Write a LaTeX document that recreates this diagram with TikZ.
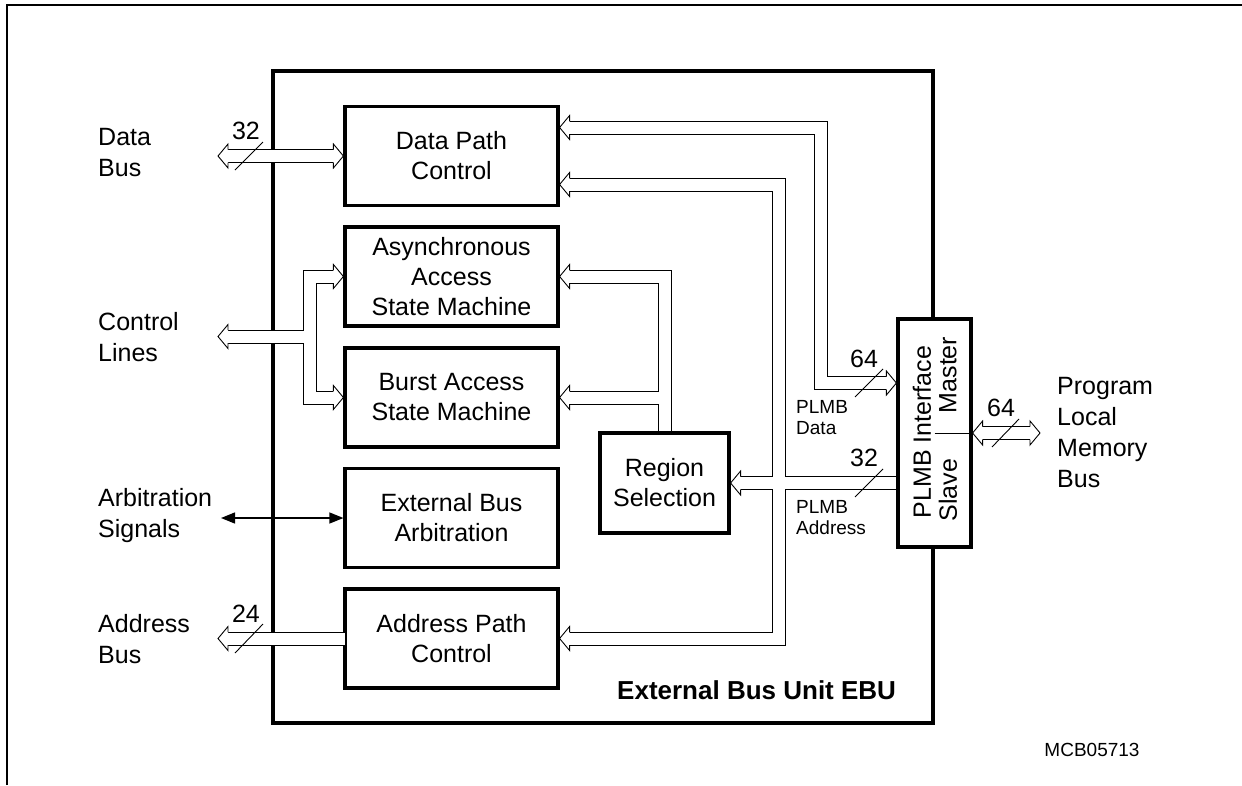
\documentclass[tikz,border=0pt]{standalone}
\usepackage{fontspec}
\setmainfont{Liberation Sans}
\usetikzlibrary{arrows.meta,calc}
\tikzset{
 blk/.style={draw, line width=3.2pt, minimum width=213pt, minimum height=99pt, align=center, inner sep=0pt, font=\fontsize{25}{30}\selectfont},
 lbl/.style={align=left, anchor=west, inner sep=0pt, font=\fontsize{25}{31}\selectfont},
 small/.style={align=left, anchor=west, inner sep=0pt, font=\fontsize{19}{21}\selectfont},
 num/.style={inner sep=0pt, font=\fontsize{25}{30}\selectfont},
 busline/.style={line width=0.9pt, line join=miter},
 slash/.style={line width=0.9pt},
}
\newcommand\bhead[2]{\begin{scope}[shift={(#1)},xscale=#2]\filldraw[fill=white,busline] (-10,6.5) -- (-10,12) -- (0,0) -- (-10,-12) -- (-10,-6.5);\end{scope}}
\begin{document}
\begin{tikzpicture}[x=1pt,y=-1pt]
\useasboundingbox (0,0) rectangle (1242,785);
% page frame
\draw[line width=1.2pt] (7,785) -- (7,5) -- (1242,5);
% EBU frame
\node[draw, line width=3.2pt, minimum width=660pt, minimum height=652pt, inner sep=0pt] (ebu) at (603,397) {};
% blocks
\node[blk] (dpc) at (451.5,156) {Data Path\\Control};
\node[blk] (asm) at (451.5,276.5) {Asynchronous\\Access\\State Machine};
\node[blk] (bsm) at (451.5,397.5) {Burst Access\\State Machine};
\node[blk] (eba) at (451.5,518) {External Bus\\Arbitration};
\node[blk] (apc) at (451.5,638.5) {Address Path\\Control};
\node[blk, minimum width=129pt, minimum height=100pt] (rs) at (664.5,483) {Region\\Selection};
\node[draw, line width=3.2pt, fill=white, minimum width=73pt, minimum height=228pt, inner sep=0pt] (plmb) at (934.5,433) {};
\node[num, rotate=90] (plmbi) at (922,432) {PLMB Interface};
\node[num, rotate=90] (mst) at (948,375) {Master};
\node[num, rotate=90] (slv) at (948,490) {Slave};
\draw[line width=0.9pt] (plmb.center) -- (plmb.east);
% tip coordinates
\coordinate (db) at (218,156);
\coordinate (cl) at (218,336.5);
\coordinate (ab) at (218,638.5);
\coordinate (pm) at (1040,433);
\coordinate (as) at (221,518);
\coordinate (dpcA) at ([yshift=28.5pt]dpc.east);
\coordinate (dpcB) at ([yshift=-28.5pt]dpc.east);
\coordinate (pd) at ([yshift=50pt]plmb.west);
% white interiors where buses cross the EBU frame
\fill[white] (228,149.5) rectangle (335,162.5);
\fill[white] (228,330) rectangle (303,343);
\fill[white] (228,632) rectangle (345,645);
% Data bus
\draw[busline] (228,149.5) -- (335,149.5);
\draw[busline] (228,162.5) -- (335,162.5);
% Control lines
\draw[busline] (335,270) -- (303,270) -- (303,330) -- (228,330);
\draw[busline] (228,343) -- (303,343) -- (303,404) -- (335,404);
\draw[busline] (335,283) -- (316,283) -- (316,391) -- (335,391);
% Address bus
\draw[busline] (228,632) -- (345,632);
\draw[busline] (228,645) -- (345,645);
% PLMB data
\draw[busline] (568,121) -- (827,121) -- (827,376.5) -- (888,376.5);
\draw[busline] (568,134) -- (814,134) -- (814,389.5) -- (888,389.5);
% PLMB address
\draw[busline] (568,178.5) -- (785,178.5) -- (785,476.5) -- (898,476.5);
\draw[busline] (568,191.5) -- (772,191.5) -- (772,476.5) -- (738,476.5);
\draw[busline] (738,489.5) -- (772,489.5) -- (772,632) -- (568,632);
\draw[busline] (898,489.5) -- (785,489.5) -- (785,645) -- (568,645);
% Region selection outputs
\draw[busline] (568,270) -- (671,270) -- (671,433);
\draw[busline] (568,283) -- (658,283) -- (658,391) -- (568,391);
\draw[busline] (568,404) -- (658,404) -- (658,433);
% Program local memory bus
\draw[busline] (981,426.5) -- (1030,426.5);
\draw[busline] (981,439.5) -- (1030,439.5);
% heads
\bhead{db}{-1} \bhead{dpc.west}{1}
\bhead{cl}{-1} \bhead{asm.west}{1} \bhead{bsm.west}{1}
\bhead{ab}{-1}
\bhead{dpcA}{-1} \bhead{dpcB}{-1} \bhead{pd}{1}
\bhead{apc.east}{-1} \bhead{rs.east}{-1}
\bhead{asm.east}{-1} \bhead{bsm.east}{-1}
\bhead{plmb.east}{-1} \bhead{pm}{1}
% arbitration
\draw[line width=1.3pt, {Triangle[length=14pt,width=11pt]}-{Triangle[length=14pt,width=11pt]}] (as) -- (eba.west);
% slashes and widths
\draw[slash] (235,170) -- (263,142);
\node[num] (n32a) at (246,131) {32};
\draw[slash] (235,653) -- (263,624);
\node[num] (n24) at (246,614) {24};
\draw[slash] (855,397) -- (883,369);
\node[num] (n64a) at (864,359) {64};
\draw[slash] (855,497) -- (883,469);
\node[num] (n32b) at (864,458) {32};
\draw[slash] (992,447) -- (1019,419);
\node[num] (n64b) at (1001,408) {64};
% labels
\node[lbl] (ldb) at (98,153) {Data\\Bus};
\node[lbl] (lcl) at (98,337) {Control\\Lines};
\node[lbl] (las) at (98,516) {Arbitration\\Signals};
\node[lbl] (lab) at (98,639) {Address\\Bus};
\node[lbl] (lpm) at (1057,433) {Program\\Local\\Memory\\Bus};
\node[small] (lpd) at (796,418) {PLMB\\Data};
\node[small] (lpa) at (796,518) {PLMB\\Address};
\node[anchor=west, inner sep=0pt, font=\fontsize{26}{30}\selectfont\bfseries] (lebu) at (617,690) {External Bus Unit EBU};
\node[inner sep=0pt, font=\fontsize{19}{21}\selectfont] (mcb) at (1092,750) {MCB05713};
\end{tikzpicture}
\end{document}
